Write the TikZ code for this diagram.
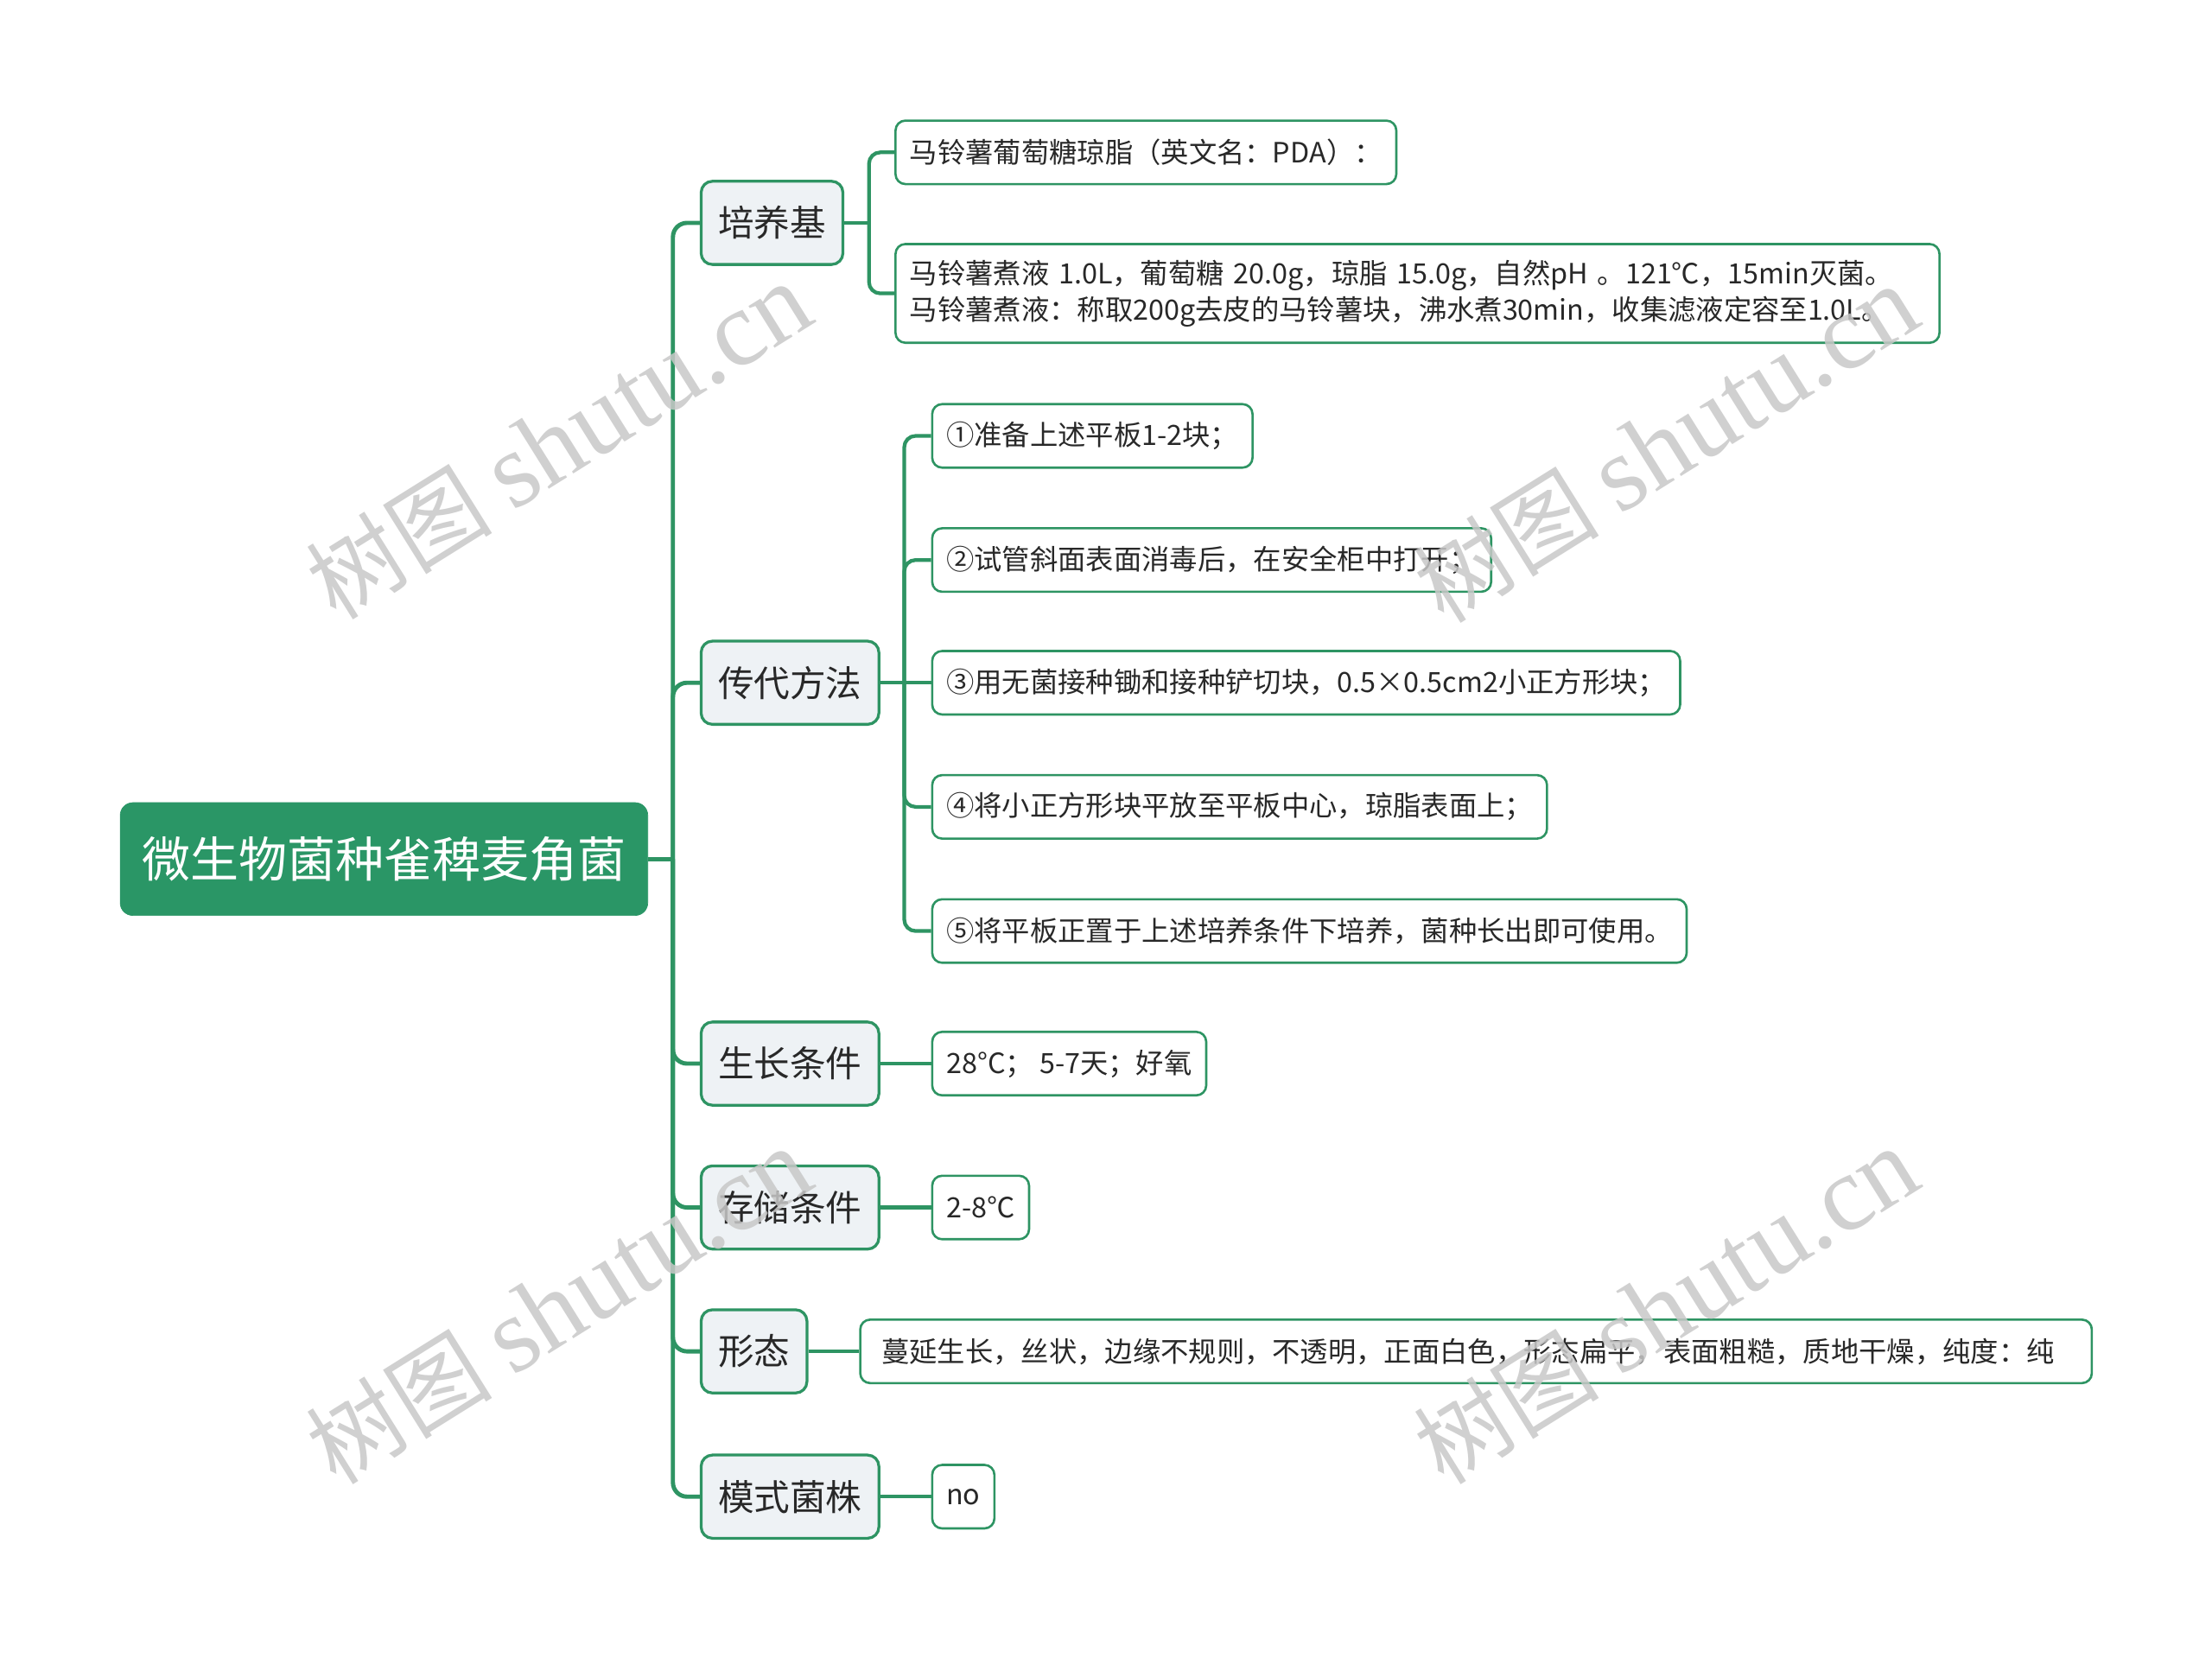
\documentclass[tikz,border=0pt]{standalone}
\usepackage{fontspec}
\setmainfont{Noto Sans CJK SC}
\newfontfamily\wmcjk{Noto Sans CJK SC}
\newfontfamily\wmlat{Liberation Serif}
\definecolor{lc}{RGB}{46,148,99}
\definecolor{rootg}{RGB}{42,150,102}
\definecolor{catbg}{RGB}{238,242,245}
\definecolor{tc}{RGB}{40,40,40}
\definecolor{wmgray}{RGB}{200,200,200}
\begin{document}
\begin{tikzpicture}[x=1pt,y=-1pt,
  conn/.style={draw=lc, line width=3pt, rounded corners=10pt},
  lconn/.style={draw=lc, line width=2.6pt, rounded corners=8pt},
  rootbox/.style={fill=rootg, draw=rootg, rounded corners=9pt, text=white, font=\fontsize{34.3}{40}\selectfont, minimum height=80pt, minimum width=374pt, anchor=west},
  catbox/.style={fill=catbg, draw=lc, line width=2pt, rounded corners=8pt, text=tc, font=\fontsize{25.5}{30}\selectfont, minimum height=59pt, inner xsep=12pt, anchor=west},
  leafbox/.style={fill=white, draw=lc, line width=1.6pt, rounded corners=7pt, text=tc, font=\fontsize{19.8}{26}\selectfont, minimum height=45pt, inner xsep=10pt, anchor=west, align=left},
  wm/.style={text=wmgray, opacity=0.85, rotate=32}
]
\useasboundingbox (0,0) rectangle (1568,1175);
\fill[white] (0,0) rectangle (1568,1175);

% root
\node[rootbox] (root) at (85,609) {微生物菌种雀稗麦角菌};

% categories
\node[catbox] (c1) at (496,158) {培养基};
\node[catbox] (c2) at (496,484) {传代方法};
\node[catbox] (c3) at (496,754) {生长条件};
\node[catbox] (c4) at (496,856) {存储条件};
\node[catbox] (c5) at (496,958) {形态};
\node[catbox] (c6) at (496,1061) {模式菌株};

% leaves
\node[leafbox] (l11) at (634,108) {马铃薯葡萄糖琼脂（英文名：PDA）：};
\node[leafbox, minimum height=70pt, text width=720pt] (l12) at (634,208) {马铃薯煮液 1.0L，葡萄糖 20.0g，琼脂 15.0g，自然pH 。121℃，15min灭菌。\\马铃薯煮液：称取200g去皮的马铃薯块，沸水煮30min，收集滤液定容至1.0L。};

\node[leafbox] (l21) at (660,309) {①准备上述平板1-2块；};
\node[leafbox] (l22) at (660,397) {②试管斜面表面消毒后，在安全柜中打开；};
\node[leafbox] (l23) at (660,484) {③用无菌接种锄和接种铲切块，0.5×0.5cm2小正方形块；};
\node[leafbox] (l24) at (660,572) {④将小正方形块平放至平板中心，琼脂表面上；};
\node[leafbox] (l25) at (660,660) {⑤将平板正置于上述培养条件下培养，菌种长出即可使用。};

\node[leafbox] (l31) at (660,754) {28°C； 5-7天；好氧};
\node[leafbox] (l41) at (660,856) {2-8℃};
\node[leafbox, inner xsep=15pt, text width=843pt] (l51) at (609,958) {蔓延生长，丝状，边缘不规则，不透明，正面白色，形态扁平，表面粗糙，质地干燥，纯度：纯};
\node[leafbox] (l61) at (660,1061) {no};

% trunk
\coordinate (tj) at (477,609);
\draw[conn] (root.east) -- (tj);
\foreach \c in {c1,c2,c3,c4,c5,c6} { \draw[conn] (tj) |- (\c.west); }

% 培养基 leaves
\coordinate (j1) at (616,158);
\draw[lconn] (c1.east) -- (j1);
\draw[lconn] (j1) |- (l11.west);
\draw[lconn] (j1) |- (l12.west);

% 传代方法 leaves
\coordinate (j2) at (641,484);
\draw[lconn] (c2.east) -- (l23.west);
\draw[lconn] (j2) |- (l21.west);
\draw[lconn] (j2) |- (l22.west);
\draw[lconn] (j2) |- (l24.west);
\draw[lconn] (j2) |- (l25.west);

% single leaves
\draw[lconn] (c3.east) -- (l31.west);
\draw[lconn] (c4.east) -- (l41.west);
\draw[lconn] (c5.east) -- (l51.west);
\draw[lconn] (c6.east) -- (l61.west);

% watermarks
\node[wm] (w1) at (396,313) {\fontsize{66}{70}\wmcjk 树图 \fontsize{76}{70}\wmlat shutu.cn};
\node[wm] (w2) at (1181,315) {\fontsize{66}{70}\wmcjk 树图 \fontsize{76}{70}\wmlat shutu.cn};
\node[wm] (w3) at (396,926) {\fontsize{66}{70}\wmcjk 树图 \fontsize{76}{70}\wmlat shutu.cn};
\node[wm] (w4) at (1181,926) {\fontsize{66}{70}\wmcjk 树图 \fontsize{76}{70}\wmlat shutu.cn};
\end{tikzpicture}
\end{document}
